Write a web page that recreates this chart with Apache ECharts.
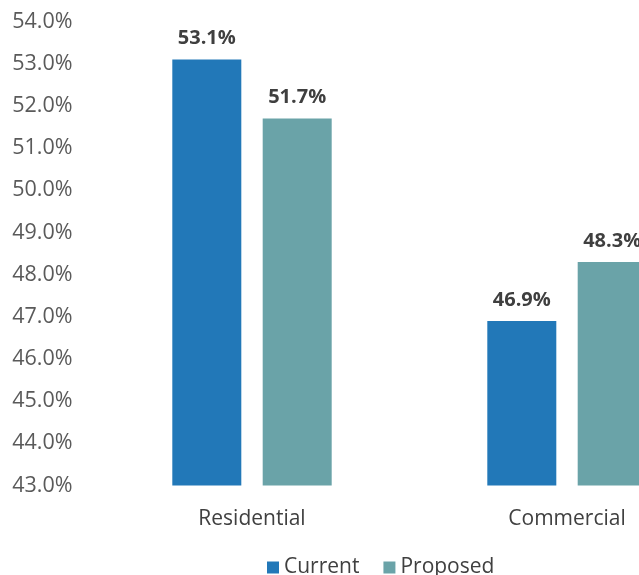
<!DOCTYPE html>
<html>
<head>
<meta charset="utf-8">
<script src="https://cdn.jsdelivr.net/npm/echarts@6/dist/echarts.min.js"></script>
<style>
  html, body { margin: 0; padding: 0; background: #fff; }
  #chart { width: 639px; height: 575px; }
</style>
</head>
<body>
<div id="chart"></div>
<script>
// Share of cost allocation by customer class
const categories = ['Residential', 'Commercial'];
const currentValues = [53.1, 46.9];
const proposedValues = [51.7, 48.3];
const seriesNames = ['Current', 'Proposed'];
const yMin = 43;
const yMax = 54;
const yStep = 1;

const FONT = '"Open Sans", "Noto Sans", sans-serif';

const chart = echarts.init(document.getElementById('chart'), null, { renderer: 'canvas' });

const labelStyle = {
  show: true,
  position: 'top',
  distance: 11,
  fontFamily: FONT,
  fontWeight: 'bold',
  fontSize: 20,
  color: '#3f3f3f',
  formatter: p => p.value.toFixed(1) + '%'
};

chart.setOption({
  animation: false,
  textStyle: { fontFamily: FONT },
  grid: {
    left: 94.5, top: 21.5, width: 630, height: 464,
    containLabel: false,
    outerBoundsMode: 'none'
  },
  legend: {
    data: seriesNames,
    left: 262,
    top: 552,
    itemWidth: 12,
    itemHeight: 12,
    itemGap: 24,
    icon: 'rect',
    textStyle: { fontFamily: FONT, fontSize: 21, color: '#404040', padding: [0, 0, 0, 0] }
  },
  xAxis: {
    type: 'category',
    data: categories,
    axisLine: { show: false },
    axisTick: { show: false },
    axisLabel: { fontFamily: FONT, fontSize: 21, color: '#404040', margin: 23 }
  },
  yAxis: {
    type: 'value',
    min: yMin,
    max: yMax,
    interval: yStep,
    axisLine: { show: false },
    axisTick: { show: false },
    splitLine: { show: false },
    axisLabel: {
      fontFamily: FONT,
      fontSize: 21.5,
      color: '#5a5a5a',
      margin: 22,
      formatter: v => v.toFixed(1) + '%'
    }
  },
  series: [
    {
      name: seriesNames[0],
      type: 'bar',
      data: currentValues,
      barWidth: 69,
      barGap: '31%',
      itemStyle: { color: '#2278b8' },
      label: labelStyle
    },
    {
      name: seriesNames[1],
      type: 'bar',
      data: proposedValues,
      barWidth: 69,
      barGap: '31%',
      itemStyle: { color: '#6aa3a8' },
      label: labelStyle
    }
  ]
});
</script>
</body>
</html>
